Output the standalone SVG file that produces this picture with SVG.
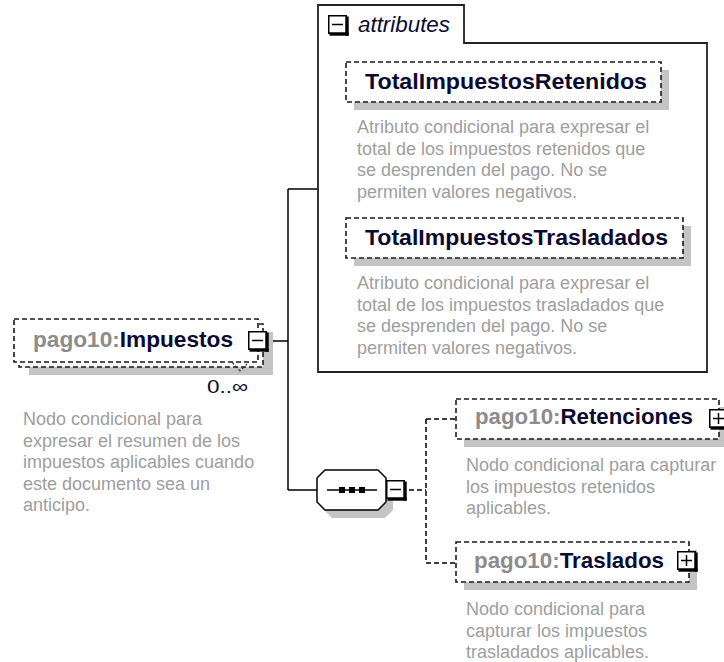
<svg xmlns="http://www.w3.org/2000/svg" width="724" height="662" viewBox="0 0 724 662">
<style>
.sh{fill:#c4c4c4}
.db{fill:#fff;stroke:#1a1a1a;stroke-width:1.6;stroke-dasharray:5 3}
.lbl{font-family:"Liberation Sans",Arial,sans-serif;font-weight:bold;font-size:22px;fill:#0a0a32}
.pfx{fill:#8c8c8c}
.desc{font-family:"Liberation Sans",Arial,sans-serif;font-size:18px;fill:#9e9e9e}
.ln{fill:none;stroke:#000;stroke-width:1.5}
.dl{fill:none;stroke:#000;stroke-width:1.5;stroke-dasharray:5 3}
</style>
<defs>
<g id="icoBase">
<rect x="0.75" y="0.75" width="17.5" height="17.5" fill="#fff" stroke="#000" stroke-width="1.5"/>
<rect x="17.5" y="1.5" width="3.2" height="19.2" fill="#000"/>
<rect x="1.5" y="17.5" width="19.2" height="3.2" fill="#000"/>
<line x1="4" y1="9.5" x2="15" y2="9.5" stroke="#000" stroke-width="1.5"/>
</g>
<g id="icoMinus"><use href="#icoBase"/></g>
<g id="icoPlus"><use href="#icoBase"/><line x1="9.5" y1="4" x2="9.5" y2="15" stroke="#000" stroke-width="1.5"/></g>
</defs>
<rect width="724" height="662" fill="#fff"/>

<g id="connectors">
<path class="ln" d="M269,341 H288 M288,189 V490 M288,189 H318 M288,490 H317"/>
<path class="dl" d="M409,490 H426 M426,419 V563 M426,419 H456 M426,563 H456"/>
</g>

<g id="node-impuestos">
<rect class="sh" x="29" y="332" width="244" height="43"/>
<rect class="db" x="19" y="324" width="244" height="43"/>
<rect class="db" x="14" y="319" width="244" height="43"/>
<path d="M232,362 L240,371 L247,364" fill="none" stroke="#333" stroke-width="1.2" stroke-dasharray="3 2"/>
<text class="lbl" x="33" y="347" textLength="200" lengthAdjust="spacingAndGlyphs"><tspan class="pfx">pago10:</tspan>Impuestos</text>
<use href="#icoMinus" x="248" y="331"/>
<text x="207" y="393" font-family="Liberation Sans,Arial,sans-serif" font-size="19" fill="#0a0a32" textLength="41" lengthAdjust="spacingAndGlyphs">0..∞</text>
<text class="desc" x="23" y="425">Nodo condicional para</text>
<text class="desc" x="23" y="446.5">expresar el resumen de los</text>
<text class="desc" x="23" y="468">impuestos aplicables cuando</text>
<text class="desc" x="23" y="489.5">este documento sea un</text>
<text class="desc" x="23" y="511">anticipo.</text>
</g>

<g id="attributes">
<path d="M318,372 V5 H464 V43 H707 V372 Z" fill="#fff" stroke="#222" stroke-width="1.8"/>
<use href="#icoMinus" x="328" y="15"/>
<text x="358" y="32" font-family="Liberation Sans,Arial,sans-serif" font-style="italic" font-size="22" fill="#0a0a32" textLength="92" lengthAdjust="spacingAndGlyphs">attributes</text>
</g>

<g id="attr-retenidos">
<rect class="sh" x="354" y="70" width="315" height="40"/>
<rect class="db" x="346" y="62" width="315" height="40"/>
<text class="lbl" x="365" y="89" textLength="282" lengthAdjust="spacingAndGlyphs">TotalImpuestosRetenidos</text>
<text class="desc" x="357" y="133">Atributo condicional para expresar el</text>
<text class="desc" x="357" y="154.5">total de los impuestos retenidos que</text>
<text class="desc" x="357" y="176">se desprenden del pago. No se</text>
<text class="desc" x="357" y="197.5">permiten valores negativos.</text>
</g>

<g id="attr-trasladados">
<rect class="sh" x="354" y="226" width="337" height="40"/>
<rect class="db" x="346" y="218" width="337" height="40"/>
<text class="lbl" x="365" y="245" textLength="303" lengthAdjust="spacingAndGlyphs">TotalImpuestosTrasladados</text>
<text class="desc" x="357" y="289">Atributo condicional para expresar el</text>
<text class="desc" x="357" y="310.5">total de los impuestos trasladados que</text>
<text class="desc" x="357" y="332">se desprenden del pago. No se</text>
<text class="desc" x="357" y="353.5">permiten valores negativos.</text>
</g>

<g id="sequence">
<polygon class="sh" points="332,478 385,478 393,486 393,510 385,518 332,518 324,510 324,486"/>
<polygon points="325,470 378,470 386,478 386,502 378,510 325,510 317,502 317,478" fill="#fff" stroke="#000" stroke-width="1.5"/>
<line x1="327" y1="490" x2="377" y2="490" stroke="#000" stroke-width="1.5"/>
<rect x="339" y="487" width="6" height="6" fill="#000"/>
<rect x="349" y="487" width="6" height="6" fill="#000"/>
<rect x="359" y="487" width="6" height="6" fill="#000"/>
<use href="#icoMinus" x="386" y="480"/>
</g>

<g id="node-retenciones">
<rect class="sh" x="464" y="407" width="263" height="40"/>
<rect class="db" x="456" y="399" width="263" height="40"/>
<text class="lbl" x="475" y="424" textLength="218" lengthAdjust="spacingAndGlyphs"><tspan class="pfx">pago10:</tspan>Retenciones</text>
<use href="#icoPlus" x="709" y="409"/>
<text class="desc" x="466" y="471">Nodo condicional para capturar</text>
<text class="desc" x="466" y="492.5">los impuestos retenidos</text>
<text class="desc" x="466" y="514">aplicables.</text>
</g>

<g id="node-traslados">
<rect class="sh" x="464" y="550" width="233" height="40"/>
<rect class="db" x="456" y="542" width="233" height="40"/>
<text class="lbl" x="474" y="568" textLength="190" lengthAdjust="spacingAndGlyphs"><tspan class="pfx">pago10:</tspan>Traslados</text>
<use href="#icoPlus" x="677" y="551"/>
<text class="desc" x="466" y="615">Nodo condicional para</text>
<text class="desc" x="466" y="636.5">capturar los impuestos</text>
<text class="desc" x="466" y="658">trasladados aplicables.</text>
</g>
</svg>
